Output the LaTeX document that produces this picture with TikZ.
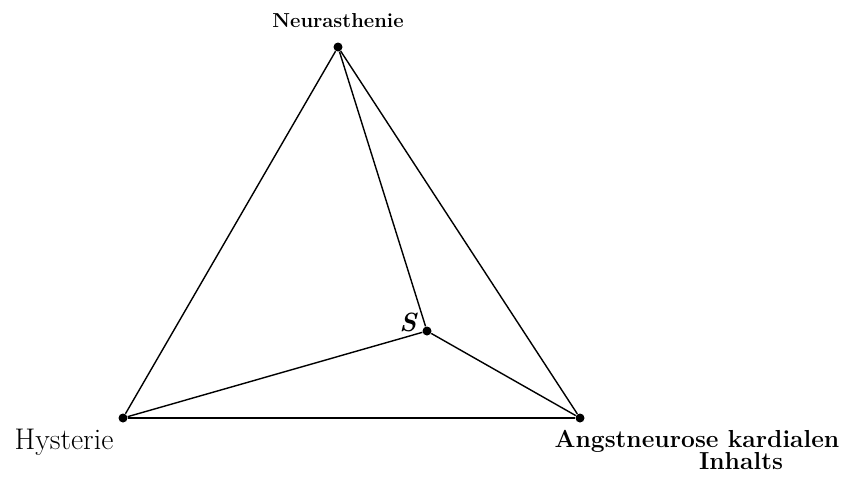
\documentclass[tikz,border=0pt]{standalone}
\usepackage{tikz}
\usetikzlibrary{positioning}
\tikzset{
  pt/.style={circle, fill=black, inner sep=0pt, minimum size=0.18cm},
  edge/.style={line width=0.8pt, color=black},
  lab/.style={font=\bfseries, anchor=base, inner sep=0pt}
}
\begin{document}
\begin{tikzpicture}[x=0.02cm, y=-0.02cm]
  \useasboundingbox (0,0) rectangle (849,478);

  % Vertices
  \node[pt] (neur) at (338,47) {};
  \node[pt] (hyst) at (123,418) {};
  \node[pt] (angst) at (580,418) {};
  \node[pt] (s) at (427,331) {};

  % Triangle
  \draw[edge] (neur) -- (hyst);
  \draw[edge] (hyst) -- (angst);
  \draw[edge] (angst) -- (neur);

  % Lines to S
  \draw[edge] (neur) -- (s);
  \draw[edge] (hyst) -- (s);
  \draw[edge] (angst) -- (s);

  % Labels
  \node[lab, font=\fontsize{11.5}{13}\selectfont\bfseries] (neurlab) at (338,27) {Neurasthenie};
  \node[lab, font=\fontsize{17}{20}\selectfont] (hystlab) at (64,449) {Hysterie};
  \node[lab, font=\fontsize{14}{16}\selectfont\bfseries] (angstlab) at (697,447) {Angstneurose kardialen};
  \node[lab, font=\fontsize{14}{16}\selectfont\bfseries] (inhlab) at (741,469) {Inhalts};
  \node[lab, font=\fontsize{15}{18}\selectfont\bfseries\itshape] (slab) at (408,331) {S};
\end{tikzpicture}
\end{document}
